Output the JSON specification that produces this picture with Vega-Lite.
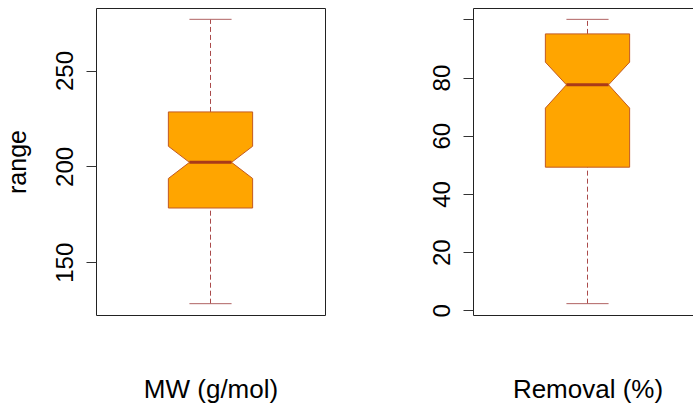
{
  "$schema": "https://vega.github.io/schema/vega-lite/v6.json",
  "padding": {"left": 4, "top": 7, "right": 0, "bottom": 0},
  "background": "white",
  "config": {
    "font": "Liberation Sans",
    "view": {"stroke": "#222222", "strokeWidth": 1},
    "axis": {"grid": false, "domain": false, "labelColor": "black", "titleColor": "black", "titleFontWeight": "normal", "tickColor": "#333333", "labelFont": "Liberation Sans", "titleFont": "Liberation Sans"}
  },
  "datasets": {
    "stats": [
      {"variable": "MW (g/mol)", "min": 128.4, "q1": 178.3, "notch_lo": 193.7, "median": 202.1, "notch_hi": 210.5, "q3": 228.4, "max": 276.7},
      {"variable": "Removal (%)", "min": 2.3, "q1": 49.2, "notch_lo": 69.5, "median": 77.5, "notch_hi": 85.3, "q3": 95.0, "max": 100.0}
    ]
  },
  "spacing": 103,
  "hconcat": [
    {
      "width": 229,
      "height": 307,
      "data": {"name": "stats"},
      "transform": [{"filter": "datum.variable === 'MW (g/mol)'"}],
      "layer": [
        {
          "mark": {"type": "rule", "strokeDash": [5, 3], "color": "#aa4a4a", "strokeWidth": 1},
          "encoding": {
            "x": {"datum": 1, "type": "quantitative", "scale": {"domain": [0.5, 1.5]},
              "axis": {"title": "MW (g/mol)", "labels": false, "ticks": false, "titlePadding": 82, "titleBaseline": "alphabetic", "titleFontSize": 26}},
            "y": {"field": "min", "type": "quantitative", "scale": {"domain": [122.5, 282.6], "nice": false, "zero": false},
              "axis": {"title": "range", "values": [150, 200, 250], "labelAngle": -90, "labelAlign": "center", "labelBaseline": "alphabetic", "labelPadding": 14, "tickSize": 10, "labelFontSize": 24, "titleFontSize": 25, "titleBaseline": "alphabetic", "titlePadding": 28, "labelOverlap": false}},
            "y2": {"field": "q1"}
          }
        },
        {
          "mark": {"type": "rule", "strokeDash": [5, 3], "color": "#aa4a4a", "strokeWidth": 1},
          "encoding": {"x": {"datum": 1, "type": "quantitative"}, "y": {"field": "q3", "type": "quantitative"}, "y2": {"field": "max"}}
        },
        {
          "mark": {"type": "rule", "color": "#b06262", "strokeWidth": 1},
          "encoding": {"x": {"datum": 0.908, "type": "quantitative"}, "x2": {"datum": 1.092}, "y": {"field": "min", "type": "quantitative"}}
        },
        {
          "mark": {"type": "rule", "color": "#b06262", "strokeWidth": 1},
          "encoding": {"x": {"datum": 0.908, "type": "quantitative"}, "x2": {"datum": 1.092}, "y": {"field": "max", "type": "quantitative"}}
        },
        {
          "transform": [
            {"fold": ["q1", "notch_lo", "median", "notch_hi", "q3"], "as": ["stat", "value"]},
            {"calculate": "datum.stat === 'median' ? 0.908 : 0.816", "as": "xl"},
            {"calculate": "datum.stat === 'median' ? 1.092 : 1.184", "as": "xr"}
          ],
          "mark": {"type": "area", "orient": "horizontal", "fill": "#FFA500", "fillOpacity": 1, "stroke": "#c25a22", "strokeWidth": 1},
          "encoding": {"y": {"field": "value", "type": "quantitative"}, "x": {"field": "xl", "type": "quantitative"}, "x2": {"field": "xr"}}
        },
        {
          "mark": {"type": "rule", "color": "#a93a1a", "strokeWidth": 3},
          "encoding": {"x": {"datum": 0.908, "type": "quantitative"}, "x2": {"datum": 1.092}, "y": {"field": "median", "type": "quantitative"}}
        }
      ]
    },
    {
      "width": 229,
      "height": 307,
      "data": {"name": "stats"},
      "transform": [{"filter": "datum.variable === 'Removal (%)'"}],
      "layer": [
        {
          "mark": {"type": "rule", "strokeDash": [5, 3], "color": "#aa4a4a", "strokeWidth": 1},
          "encoding": {
            "x": {"datum": 1, "type": "quantitative", "scale": {"domain": [0.5, 1.5]},
              "axis": {"title": "Removal (%)", "labels": false, "ticks": false, "titlePadding": 82, "titleBaseline": "alphabetic", "titleFontSize": 26}},
            "y": {"field": "min", "type": "quantitative", "scale": {"domain": [-1.6, 103.9], "nice": false, "zero": false},
              "axis": {"title": null, "values": [0, 20, 40, 60, 80, 100], "labelExpr": "datum.value === 100 ? '' : datum.label", "labelAngle": -90, "labelAlign": "center", "labelBaseline": "alphabetic", "labelPadding": 14, "tickSize": 10, "labelFontSize": 24, "labelOverlap": false}},
            "y2": {"field": "q1"}
          }
        },
        {
          "mark": {"type": "rule", "strokeDash": [5, 3], "color": "#aa4a4a", "strokeWidth": 1},
          "encoding": {"x": {"datum": 1, "type": "quantitative"}, "y": {"field": "q3", "type": "quantitative"}, "y2": {"field": "max"}}
        },
        {
          "mark": {"type": "rule", "color": "#b06262", "strokeWidth": 1},
          "encoding": {"x": {"datum": 0.908, "type": "quantitative"}, "x2": {"datum": 1.092}, "y": {"field": "min", "type": "quantitative"}}
        },
        {
          "mark": {"type": "rule", "color": "#b06262", "strokeWidth": 1},
          "encoding": {"x": {"datum": 0.908, "type": "quantitative"}, "x2": {"datum": 1.092}, "y": {"field": "max", "type": "quantitative"}}
        },
        {
          "transform": [
            {"fold": ["q1", "notch_lo", "median", "notch_hi", "q3"], "as": ["stat", "value"]},
            {"calculate": "datum.stat === 'median' ? 0.908 : 0.816", "as": "xl"},
            {"calculate": "datum.stat === 'median' ? 1.092 : 1.184", "as": "xr"}
          ],
          "mark": {"type": "area", "orient": "horizontal", "fill": "#FFA500", "fillOpacity": 1, "stroke": "#c25a22", "strokeWidth": 1},
          "encoding": {"y": {"field": "value", "type": "quantitative"}, "x": {"field": "xl", "type": "quantitative"}, "x2": {"field": "xr"}}
        },
        {
          "mark": {"type": "rule", "color": "#a93a1a", "strokeWidth": 3},
          "encoding": {"x": {"datum": 0.908, "type": "quantitative"}, "x2": {"datum": 1.092}, "y": {"field": "median", "type": "quantitative"}}
        }
      ]
    }
  ]
}
